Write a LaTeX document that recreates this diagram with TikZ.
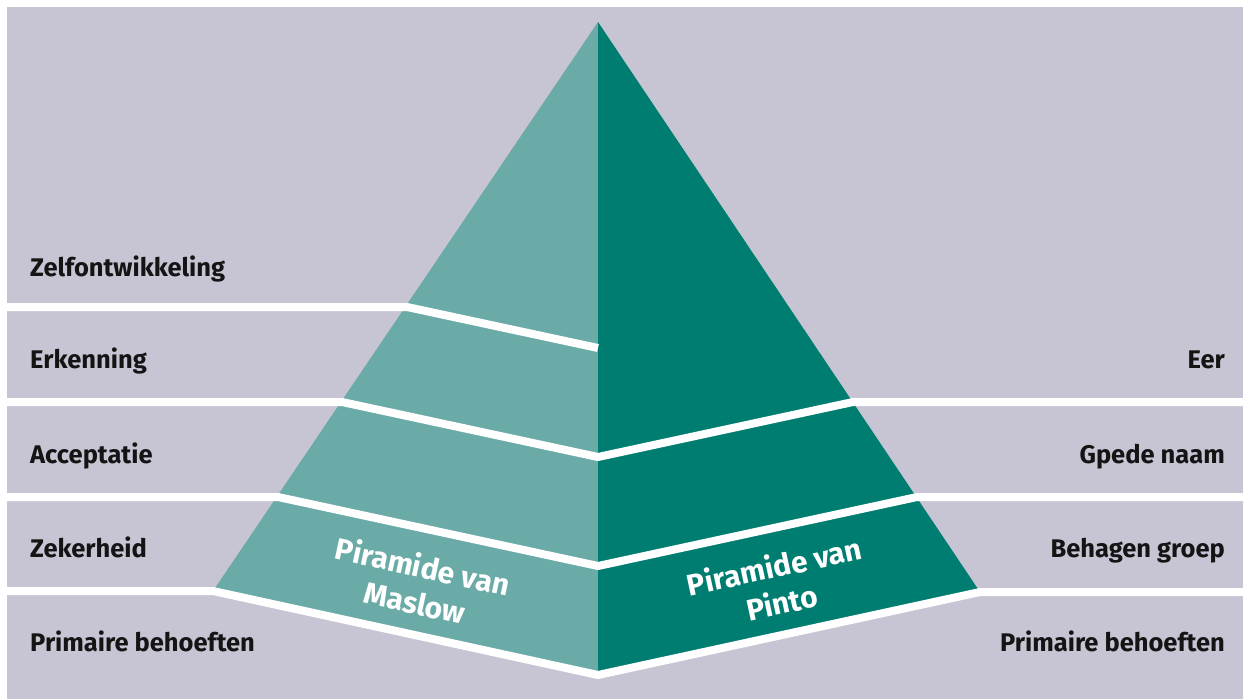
\documentclass[tikz,border=0pt]{standalone}
\usepackage{fontspec}
\setmainfont{Fira Sans}
\definecolor{bggrey}{HTML}{C7C5D3}
\definecolor{lightteal}{HTML}{6BABA7}
\definecolor{darkteal}{HTML}{007D71}
\begin{document}
\begin{tikzpicture}[x=1pt,y=-1pt,
  band/.style={white, line width=8pt, line join=miter},
  lbl/.style={font=\bfseries\fontsize{25.5}{30}\selectfont, text=black!92, inner sep=0pt},
  pyrlbl/.style={font=\bfseries\fontsize{30}{37}\selectfont, text=white, align=center, inner sep=0pt}]
\useasboundingbox (0,0) rectangle (1243,699);
\fill[white] (0,0) rectangle (1243,699);
\fill[bggrey] (7,7) rectangle (1243,699);
% key points
\coordinate (apex) at (598,22);
\coordinate (lbase) at (213,591);
\coordinate (rbase) at (980,592);
\coordinate (bot) at (598,675);
% pyramid halves
\fill[lightteal] (apex) -- (lbase) -- (bot) -- cycle;
\fill[darkteal] (apex) -- (rbase) -- (bot) -- cycle;
% junctions
\coordinate (l0) at (0,307);   \coordinate (e1) at (407,307); \coordinate (m1) at (598,348);
\coordinate (l2) at (0,402);   \coordinate (e2) at (342,402); \coordinate (m2) at (598,457);
\coordinate (f2) at (853,402); \coordinate (r2) at (1243,402);
\coordinate (l3) at (0,497);   \coordinate (e3) at (278,497); \coordinate (m3) at (598,566);
\coordinate (f3) at (917,497); \coordinate (r3) at (1243,497);
\coordinate (l4) at (0,591);   \coordinate (r4) at (1243,592);
% white bands
\draw[band] (l0) -- (e1) -- (m1);
\draw[band] (l2) -- (e2) -- (m2) -- (f2) -- (r2);
\draw[band] (l3) -- (e3) -- (m3) -- (f3) -- (r3);
\draw[band] (l4) -- (lbase) -- (bot) -- (rbase) -- (r4);
% left labels
\node[lbl, anchor=base west] (zelf) at (30,276) {Zelfontwikkeling};
\node[lbl, anchor=base west] (erk) at (30,368) {Erkenning};
\node[lbl, anchor=base west] (acc) at (30,463) {Acceptatie};
\node[lbl, anchor=base west] (zek) at (30,557) {Zekerheid};
\node[lbl, anchor=base west] (prl) at (30,651) {Primaire behoeften};
% right labels
\node[lbl, anchor=base east] (eer) at (1225,368) {Eer};
\node[lbl, anchor=base east] (gpede) at (1225,463) {Gpede naam};
\node[lbl, anchor=base east] (beh) at (1225,557) {Behagen groep};
\node[lbl, anchor=base east] (prr) at (1225,651) {Primaire behoeften};
% pyramid labels
\node[pyrlbl, rotate=-12.2] (maslow) at (419,584) {Piramide van\\Maslow};
\node[pyrlbl, rotate=12.2] (pinto) at (778,584) {Piramide van\\Pinto};
\end{tikzpicture}
\end{document}
